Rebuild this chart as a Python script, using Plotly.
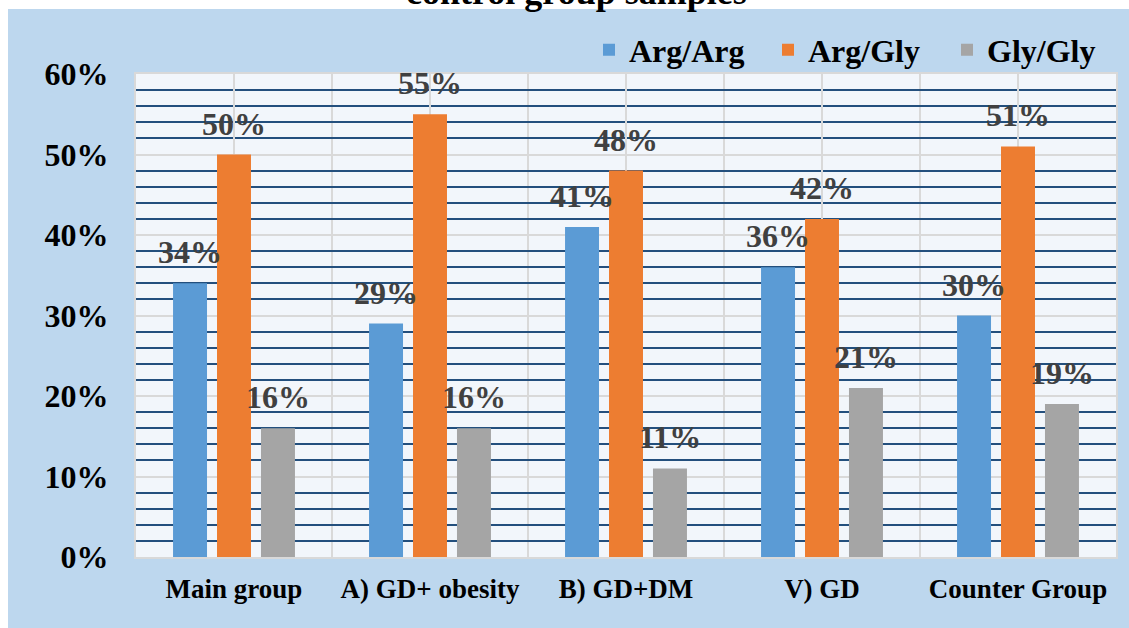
import plotly.graph_objects as go

# Genotype frequencies (%) per study group
categories = ["Main group", "A) GD+ obesity", "B) GD+DM", "V) GD", "Counter Group"]
series_names = ["Arg/Arg", "Arg/Gly", "Gly/Gly"]
arg_arg = [34, 29, 41, 36, 30]
arg_gly = [50, 55, 48, 42, 51]
gly_gly = [16, 16, 11, 21, 19]
y_ticks = [0, 10, 20, 30, 40, 50, 60]

series_values = [arg_arg, arg_gly, gly_gly]
colors = ["#5B9BD5", "#ED7D31", "#A5A5A5"]

FONT = "Liberation Serif, Times New Roman, serif"
BAR_GAP = 0.327
GROUP_GAP = 0.227

x_pos = list(range(len(categories)))

fig = go.Figure()
for name, vals, col in zip(series_names, series_values, colors):
    fig.add_trace(go.Bar(
        x=x_pos, y=vals, name=name,
        marker=dict(color=col, line=dict(width=0)),
    ))

# value labels above each bar, offset to its slot in the group
slot = (1 - BAR_GAP) / len(series_names)
annotations = []
for k, vals in enumerate(series_values):
    off = (k - (len(series_names) - 1) / 2) * slot
    for i, v in enumerate(vals):
        annotations.append(dict(
            x=x_pos[i] + off, y=v, xref="x", yref="y",
            text=f"{v}%", showarrow=False,
            yanchor="middle", yshift=31,
            font=dict(family=FONT, size=32, color="#404040", weight="bold"),
        ))

W, H = 1129, 628
PLOT_L, PLOT_R, PLOT_T, PLOT_B = 136, 1116, 74, 557
pw, ph = PLOT_R - PLOT_L, PLOT_B - PLOT_T


def px_x(p):
    return (p - PLOT_L) / pw


def px_y(p):
    return (PLOT_B - p) / ph


# title line (runs past the top edge of the page)
annotations.append(dict(
    x=px_x(576), y=1.17, xref="paper", yref="paper",
    text="control group samples", showarrow=False,
    xanchor="center", yanchor="middle",
    font=dict(family=FONT, size=36, color="#000000", weight="bold"),
))

# white frame strips along the left and top of the page
shapes = [
    dict(type="rect", xref="paper", yref="paper", layer="below",
         x0=px_x(-5), x1=px_x(8), y0=px_y(H + 5), y1=px_y(-5),
         fillcolor="#FFFFFF", line=dict(width=0)),
    dict(type="rect", xref="paper", yref="paper", layer="below",
         x0=px_x(-5), x1=px_x(W + 5), y0=px_y(9), y1=px_y(-5),
         fillcolor="#FFFFFF", line=dict(width=0)),
]

fig.update_layout(
    width=W, height=H,
    margin=dict(l=PLOT_L, r=W - PLOT_R, t=PLOT_T, b=H - PLOT_B, pad=0, autoexpand=False),
    paper_bgcolor="#BDD7EE",
    plot_bgcolor="#F2F6FB",
    barmode="group",
    bargap=BAR_GAP,
    bargroupgap=GROUP_GAP,
    showlegend=True,
    legend=dict(
        orientation="h", x=589 / W, y=1 - 50 / H,
        xref="container", yref="container",
        xanchor="left", yanchor="middle",
        font=dict(family=FONT, size=32, color="#000000", weight="bold"),
        bgcolor="rgba(0,0,0,0)",
        entrywidth=134, entrywidthmode="pixels",
    ),
    annotations=annotations,
    shapes=shapes,
    xaxis=dict(
        range=[-0.5, len(categories) - 0.5],
        tickmode="array", tickvals=x_pos, ticktext=categories,
        showgrid=True, gridcolor="#D9D9D9", gridwidth=2,
        minor=dict(tickmode="array",
                   tickvals=[i + 0.5 for i in x_pos[:-1]],
                   showgrid=True, gridcolor="#D9D9D9", gridwidth=2, ticks=""),
        ticks="", showline=True, mirror=True, linecolor="#D9D9D9", linewidth=2,
        zeroline=False,
        tickfont=dict(family=FONT, size=27, color="#000000", weight="bold"),
        ticklabelstandoff=7,
    ),
    yaxis=dict(
        range=[0, 60],
        tickmode="array", tickvals=y_ticks, ticktext=[f"{v}%" for v in y_ticks],
        showgrid=True, gridcolor="#D9D9D9", gridwidth=2,
        minor=dict(dtick=2, tick0=0, showgrid=True, gridcolor="#234F7D", gridwidth=2, ticks=""),
        ticks="", showline=True, mirror=True, linecolor="#D9D9D9", linewidth=2,
        zeroline=False,
        tickfont=dict(family=FONT, size=32, color="#000000", weight="bold"),
        ticklabelstandoff=19,
    ),
)

fig.write_html("out.html")
